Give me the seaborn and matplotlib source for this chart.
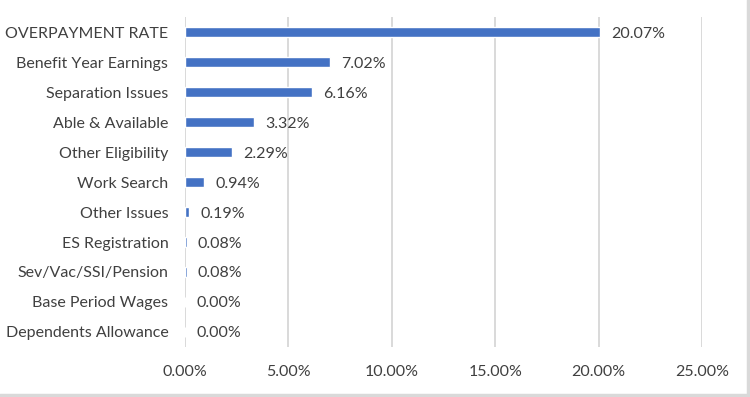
import matplotlib
matplotlib.use("Agg")
import matplotlib.pyplot as plt
import seaborn as sns
import pandas as pd
from matplotlib.ticker import FuncFormatter, MultipleLocator
from matplotlib.lines import Line2D

# ---- data ----
categories = [
    "OVERPAYMENT RATE",
    "Benefit Year Earnings",
    "Separation Issues",
    "Able & Available",
    "Other Eligibility",
    "Work Search",
    "Other Issues",
    "ES Registration",
    "Sev/Vac/SSI/Pension",
    "Base Period Wages",
    "Dependents Allowance",
]
rates = [20.07, 7.02, 6.16, 3.32, 2.29, 0.94, 0.19, 0.08, 0.08, 0.00, 0.00]

df = pd.DataFrame({"category": categories, "rate": rates})

sns.set_theme(style="white")
plt.rcParams["font.family"] = ["Lato", "DejaVu Sans"]
text_color = "#404040"
fs = 11.5

fig = plt.figure(figsize=(7.5, 3.97), dpi=100)
ax = fig.add_axes([0.2467, 0.126, 0.936 - 0.2467, 0.957 - 0.126])

sns.barplot(data=df, x="rate", y="category", orient="h", color="#4472C4",
            saturation=1, width=0.34, ax=ax)

ax.set_xlim(0, 25)
ax.set_ylim(len(categories) - 0.5, -0.5)
ax.xaxis.set_major_locator(MultipleLocator(5))
ax.xaxis.set_major_formatter(FuncFormatter(lambda v, p: f"{v:.2f}%"))
ax.grid(axis="x", color="#D0D0D0", linewidth=1.1)
ax.set_axisbelow(True)
for s in ax.spines.values():
    s.set_visible(False)
ax.tick_params(axis="both", length=0, labelsize=fs, colors=text_color)
ax.tick_params(axis="x", pad=13)
ax.tick_params(axis="y", pad=12)
ax.set_xlabel("")
ax.set_ylabel("")

labels = [f"{v:.2f}%" for v in rates]
for t in ax.bar_label(ax.containers[0], labels=labels, padding=8, fontsize=fs,
                      color=text_color):
    t.set_va("top")
    t.set_y(t.get_position()[1])
    t.set_verticalalignment("center_baseline")

# light frame on the right and bottom edges, like the exported chart
fig.add_artist(Line2D([0.997, 0.997], [0.0, 1.0], transform=fig.transFigure,
                      color="#D9D9D9", linewidth=2.5))
fig.add_artist(Line2D([0.0, 1.0], [0.004, 0.004], transform=fig.transFigure,
                      color="#D9D9D9", linewidth=2.5))

fig.savefig("out.png", dpi=100)
